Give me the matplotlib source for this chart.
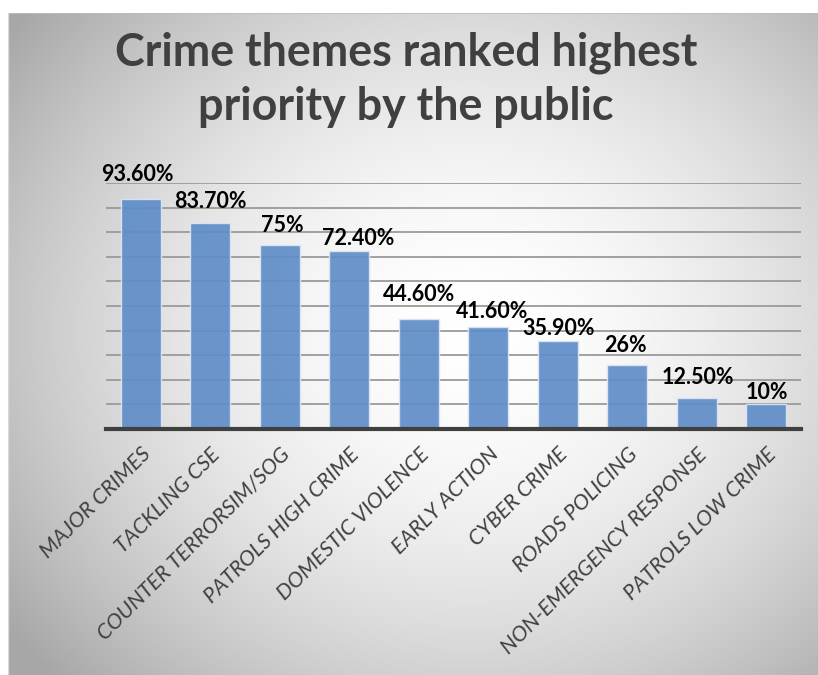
import numpy as np
import matplotlib
matplotlib.use('Agg')
import matplotlib.pyplot as plt

plt.rcParams['font.family'] = ['Lato', 'DejaVu Sans']

# 데이터
categories = ['MAJOR CRIMES', 'TACKLING CSE', 'COUNTER TERRORSIM/SOG', 'PATROLS HIGH CRIME',
              'DOMESTIC VIOLENCE', 'EARLY ACTION', 'CYBER CRIME', 'ROADS POLICING',
              'NON-EMERGENCY RESPONSE', 'PATROLS LOW CRIME']
values = [93.6, 83.7, 75, 72.4, 44.6, 41.6, 35.9, 26, 12.5, 10]
labels = ['93.60%', '83.70%', '75%', '72.40%', '44.60%', '41.60%', '35.90%', '26%', '12.50%', '10%']

# 라벨 위치 미세조정 (px)
label_dx = [-3, 0.5, 3, 8.5, 0, 3.5, 1, -1.5, 1, 1]
label_dy = [24, 22, 19, 12, 25, 15, 12, 20, 21, 12]

fig = plt.figure(figsize=(8.18, 6.75), dpi=100)
fig.patch.set_facecolor('white')

# 배경 그라데이션
W, H = 818, 675
bg_ax = fig.add_axes([8 / W, 0, 1 - 8 / W, 1 - 13 / H])
bg_ax.set_axis_off()
yy, xx = np.mgrid[13:675, 8:818]
r = np.sqrt(((xx - 470) / 460) ** 2 + ((yy - 330) / 400) ** 2)
shade = 1.0 - 0.23 * np.clip(r, 0, 1.25) ** 1.8
bg_ax.imshow(np.dstack([shade] * 3), aspect='auto', extent=[0, 1, 0, 1])
bg_ax.plot([0, 1], [1, 1], color='#bdbdbd', lw=1.2, transform=bg_ax.transAxes)
bg_ax.plot([0, 0], [0, 1], color='#d8d8d8', lw=1.0, transform=bg_ax.transAxes)

ax = fig.add_axes([106 / W, 1 - 429 / H, (801 - 106) / W, (429 - 183) / H])
ax.set_facecolor('none')
x = np.arange(len(categories))
ax.bar(x, values, width=0.58, color='#5f8dc8', alpha=0.92, edgecolor='#dce6f2', linewidth=1.0, zorder=3)
ax.set_xlim(-0.5, len(categories) - 0.5)
ax.set_ylim(0, 100)
ax.set_yticks(np.arange(10, 101, 10))
ax.yaxis.grid(True, color='#9a9a9a', linewidth=1.3, zorder=1)
ax.set_yticklabels([])
ax.tick_params(axis='both', length=0)
for s in ['top', 'right', 'left']:
    ax.spines[s].set_visible(False)
ax.spines['bottom'].set_color('#404040')
ax.spines['bottom'].set_linewidth(3)
ax.spines['bottom'].set_zorder(5)

ax.set_xticks(x)
ax.set_xticklabels(categories, rotation=45, ha='right', rotation_mode='anchor',
                   fontsize=15.5, fontstyle='italic', color='#404040')
ax.tick_params(axis='x', pad=11)

for i, v in enumerate(values):
    ax.annotate(labels[i], (x[i], v), xytext=(label_dx[i] * 0.72, label_dy[i] * 0.72),
                textcoords='offset points', ha='center', va='center',
                fontsize=15.5, fontweight='bold', color='black', zorder=6)

fig.text(0.496, 1 - 80 / H, 'Crime themes ranked highest\npriority by the public',
         ha='center', va='center', fontsize=32.3, fontweight='bold', color='#404040',
         linespacing=1.35)

fig.savefig('out.png', dpi=100)
